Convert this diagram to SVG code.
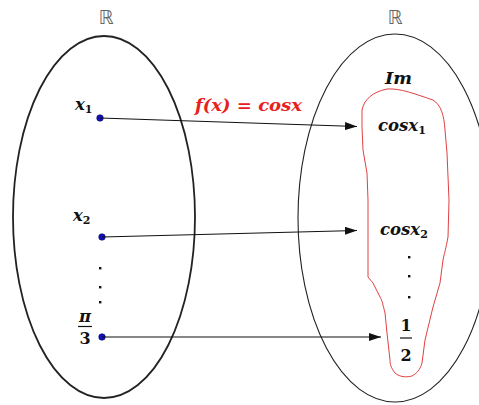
<svg xmlns="http://www.w3.org/2000/svg" width="479" height="405" viewBox="0 0 479 405">
<style>
.m{font-family:"DejaVu Serif","Liberation Serif",serif;font-style:italic;font-weight:bold;font-size:16.5px;fill:#111}
.n{font-family:"DejaVu Serif","Liberation Serif",serif;font-weight:bold;font-size:16px;fill:#111}
.sub{font-size:11px;font-style:normal}
.R{font-family:"DejaVu Sans","Noto Sans",sans-serif;font-size:19px;fill:#666}
.ar{stroke:#111;stroke-width:1.2;fill:none;marker-end:url(#ah)}
.dot{fill:#1010c0;stroke:#000050;stroke-width:0.5}
.vd{fill:#111}
</style>
<defs>
<marker id="ah" viewBox="0 0 12 8" refX="12" refY="4" markerWidth="12" markerHeight="8" markerUnits="userSpaceOnUse" orient="auto">
<path d="M0,0 L12,4 L0,8 Z" fill="#111"/>
</marker>
</defs>
<rect width="479" height="405" fill="#fff"/>
<g id="domain">
<ellipse cx="104" cy="217" rx="91" ry="181" fill="none" stroke="#222" stroke-width="1.8"/>
<text class="R" x="106" y="24" text-anchor="middle">ℝ</text>
</g>
<g id="codomain">
<ellipse cx="395" cy="218" rx="97" ry="184" fill="none" stroke="#222" stroke-width="1.1"/>
<text class="R" x="395" y="24" text-anchor="middle">ℝ</text>
</g>
<g id="image">
<path d="M362,110 C364,100 372,92 387,89 C400,88 415,94 433,100 C441,105 444,115 445,130 L447,153 L449,200 L448,237 C446,248 444,255 443,260 L440,283 L433,307 L425,340 L422,363 C420,370 417,373 412,376 C405,378 398,376 395,373 C391,368 390,364 390,360 L387,333 L385,313 C383,305 382,300 380,297 L373,283 L368,277 L368,200 L367,173 L363,150 L362,127 Z" fill="none" stroke="#e04040" stroke-width="1"/>
<text class="m" x="385" y="84" textLength="27" lengthAdjust="spacingAndGlyphs">Im</text>
</g>
<g id="x1">
<circle class="dot" cx="100" cy="118" r="3.3"/>
<text class="m" x="75" y="110">x<tspan class="sub" dy="3">1</tspan></text>
</g>
<g id="x2">
<circle class="dot" cx="102" cy="237" r="3.3"/>
<text class="m" x="73" y="221">x<tspan class="sub" dy="3">2</tspan></text>
</g>
<g id="ldots">
<rect class="vd" x="99" y="267" width="2.4" height="2.4"/>
<rect class="vd" x="99" y="286" width="2.4" height="2.4"/>
<rect class="vd" x="99" y="301" width="2.4" height="2.4"/>
</g>
<g id="pi3">
<circle class="dot" cx="102" cy="337" r="3.3"/>
<text class="m" x="85" y="322" text-anchor="middle">π</text>
<line x1="78" y1="326.5" x2="92" y2="326.5" stroke="#111" stroke-width="1.2"/>
<text class="n" x="85" y="344" text-anchor="middle">3</text>
</g>
<g id="cosx1">
<text class="m" x="378" y="131">cosx<tspan class="sub" dy="3">1</tspan></text>
</g>
<g id="cosx2">
<text class="m" x="380" y="235">cosx<tspan class="sub" dy="3">2</tspan></text>
</g>
<g id="rdots">
<rect class="vd" x="408" y="256" width="2.4" height="2.4"/>
<rect class="vd" x="408" y="275" width="2.4" height="2.4"/>
<rect class="vd" x="408" y="296" width="2.4" height="2.4"/>
</g>
<g id="half">
<text class="n" x="406" y="331" text-anchor="middle">1</text>
<line x1="400" y1="338" x2="412" y2="338" stroke="#111" stroke-width="1.2"/>
<text class="n" x="406" y="361" text-anchor="middle">2</text>
</g>
<g id="connectors">
<line class="ar" x1="100" y1="118" x2="357" y2="126.5"/>
<line class="ar" x1="102" y1="237" x2="357" y2="230.5"/>
<line class="ar" x1="102" y1="337" x2="381" y2="337"/>
<text class="m" x="195" y="111" style="fill:#e82020" textLength="107" lengthAdjust="spacingAndGlyphs">f(x) = cosx</text>
</g>
</svg>
